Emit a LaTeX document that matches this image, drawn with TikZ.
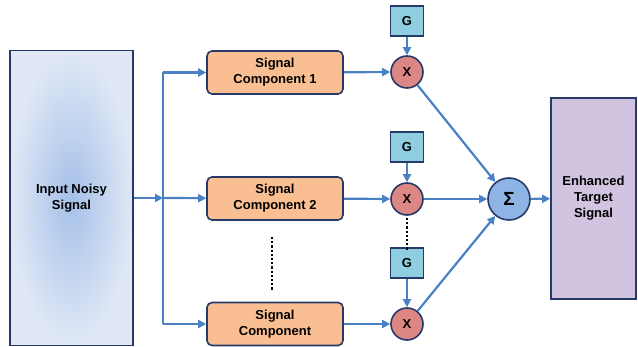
\documentclass[tikz,border=0pt]{standalone}
\usepackage{fontspec}
\setmainfont{Liberation Sans}
\usetikzlibrary{arrows.meta}
\definecolor{wire}{RGB}{74,128,196}
\definecolor{rim}{RGB}{38,58,105}
\definecolor{compfill}{RGB}{249,190,146}
\definecolor{mulfill}{RGB}{220,135,132}
\definecolor{gainfill}{RGB}{142,206,224}
\definecolor{sumfill}{RGB}{141,180,228}
\definecolor{outfill}{RGB}{208,196,224}
\definecolor{inlight}{RGB}{224,232,246}
\definecolor{indark}{RGB}{165,192,232}
\tikzset{
  comp/.style={draw=rim, line width=1.6pt, fill=compfill, rounded corners=5pt,
    minimum width=136pt, minimum height=43pt, align=center},
  mul/.style={draw=rim, line width=1.6pt, fill=mulfill, circle, inner sep=0pt,
    minimum size=32pt},
  gain/.style={draw=rim, line width=1.6pt, fill=gainfill, inner sep=0pt,
    minimum width=33pt, minimum height=30pt},
  wire/.style={draw=wire, line width=2.2pt}
}

\begin{document}
\begin{tikzpicture}[x=1pt, y=-1pt, font=\bfseries\fontsize{13}{16}\selectfont,
    >={Triangle[length=8pt,width=8pt]}]
    \useasboundingbox (0,0) rectangle (638,347);
    \node[draw=rim, line width=1.6pt, inner color=indark, outer color=inlight,
      minimum width=123pt, minimum height=295pt, align=center] (in) at (71.5,198) {Input Noisy\\Signal};
    \node[comp] (c1) at (275,72.5) {Signal\\Component 1};
    \node[comp] (c2) at (275,198.5) {Signal\\Component 2};
    \node[comp] (c3) at (275,324) {Signal\\Component};
    \node[mul] (m1) at (407,72) {X};
    \node[mul] (m2) at (407,199) {X};
    \node[mul] (m3) at (407,324) {X};
    \node[gain] (g1) at (407,21) {G};
    \node[gain] (g2) at (407,147) {G};
    \node[gain] (g3) at (407,263) {G};
    \node[draw=rim, line width=1.6pt, fill=sumfill, circle, inner sep=0pt,
      minimum size=42pt, font=\bfseries\fontsize{19}{19}\selectfont] (s) at (509,199) {Σ};
    \node[draw=rim, line width=1.6pt, fill=outfill, minimum width=85pt,
      minimum height=201pt, align=center] (out) at (593.5,198.5) {Enhanced\\Target\\Signal};
    \coordinate (j) at (163,198);
    \coordinate (j1) at (163,72.5);
    \coordinate (j3) at (163,324);
    \draw [wire, ->] (in.east) -- (j);
    \draw [wire] (j1) -- (j3);
    \draw [wire, ->] (j1) -- (c1);
    \draw [wire, ->] (j) -- (c2);
    \draw [wire, ->] (j3) -- (c3);
    \draw [wire, ->] (c1) -- (m1);
    \draw [wire, ->] (c2) -- (m2);
    \draw [wire, ->] (c3) -- (m3);
    \draw [wire, ->] (g1) -- (m1);
    \draw [wire, ->] (g2) -- (m2);
    \draw [wire, ->] (g3) -- (m3);
    \draw [wire, ->] (m1) -- (s);
    \draw [wire, ->] (m2) -- (s);
    \draw [wire, ->] (m3) -- (s);
    \draw [wire, ->] (s) -- (out);
    \coordinate (d1) at (272,237);
    \coordinate (d2) at (272,290);
    \coordinate (d3) at (407,218);
    \coordinate (d4) at (407,250);
    \draw [line width=2.2pt, dotted] (d1) -- (d2);
    \draw [line width=2.2pt, dotted] (d3) -- (d4);
\end{tikzpicture}
\end{document}
